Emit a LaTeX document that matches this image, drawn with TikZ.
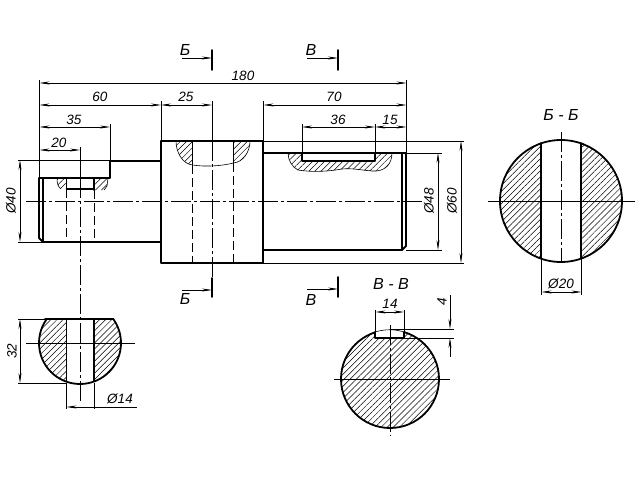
\documentclass[tikz,border=0pt]{standalone}
\usepackage{fontspec}
\setmainfont{Liberation Sans}
\usetikzlibrary{arrows.meta,patterns.meta}

\tikzset{
  contour/.style={line width=1.8pt, line cap=round, line join=round},
  thinline/.style={line width=0.6pt},
  dimline/.style={thinline, {Stealth[length=10pt,width=3pt]}-{Stealth[length=10pt,width=3pt]}},
  dimstart/.style={thinline, {Stealth[length=10pt,width=3pt]}-},
  dimend/.style={thinline, -{Stealth[length=10pt,width=3pt]}},
  axisline/.style={thinline, dash pattern=on 20pt off 3pt on 3pt off 3pt},
  hiddenline/.style={line width=0.8pt, dash pattern=on 9pt off 4pt},
  hatched/.style={pattern={Lines[angle=45,distance=4.3pt,line width=0.5pt]}},
  lbl/.style={font=\fontsize{13.5}{13.5}\selectfont\itshape, inner sep=0pt},
  marklbl/.style={font=\fontsize{16}{16}\selectfont\itshape, inner sep=0pt},
}

\begin{document}
\begin{tikzpicture}[x=1pt, y=-1pt]
  \useasboundingbox (0,0) rectangle (640,480);
  \fill[white] (0,0) rectangle (640,480);

  % hatching main view
  \path[hatched] (57,178) -- (66.5,178) -- (66.5,189) -- (61,189) .. controls (58,187) and (57,183) .. cycle;
  \path[hatched] (94,178) -- (108,178) -- (107,186) -- (104,190) -- (94,190) -- cycle;
  \path[hatched] (176,141) -- (192.5,141) -- (192.5,165) .. controls (183,164) and (176,153) .. cycle;
  \path[hatched] (233.5,141) -- (250,141) .. controls (250,152) and (243,162) .. (233.5,163) -- cycle;
  \path[hatched] (288,153) -- (302,153) -- (302,161) -- (375,161) -- (375,153) -- (392,153)
    .. controls (392,164) and (385,172) .. (372,171) .. controls (360,170) and (352,168) .. (342,169)
    .. controls (325,172) and (310,172) .. (298,170) .. controls (292,167) and (288,160) .. cycle;
  \draw[thinline] (176,141) .. controls (176,153) and (183,164) .. (192.5,165);
  \draw[thinline] (250,141) .. controls (250,152) and (243,162) .. (233.5,163);
  \draw[thinline] (192.5,165) .. controls (205,167) and (222,166) .. (233.5,163);
  \draw[thinline] (57,178) .. controls (57,183) and (58,187) .. (61,189);
  \draw[thinline] (108,178) -- (107,186) -- (104,190);
  \draw[thinline] (288,153) .. controls (288,160) and (292,167) .. (298,170)
    .. controls (310,172) and (325,172) .. (342,169)
    .. controls (352,168) and (360,170) .. (372,171)
    .. controls (385,172) and (392,164) .. (392,153);

  % contour main view
  \draw[contour] (110,161) -- (161,161);
  \draw[contour] (39,238) -- (39,178) -- (110,178) -- (110,161);
  \draw[contour] (39,238) -- (43,242) -- (161,242);
  \draw[contour] (43,178) -- (43,242);
  \draw[contour] (161,141) rectangle (263,263);
  \draw[contour] (263,153) -- (406,153) -- (406,246) -- (402,250) -- (263,250);
  \draw[contour] (402,153) -- (402,250);
  \draw[contour] (66.5,178) -- (66.5,189) -- (94,189) -- (94,178);
  \draw[contour] (94,178) -- (94,190);
  \draw[contour] (192.5,141) -- (192.5,165);
  \draw[contour] (233.5,141) -- (233.5,163);
  \draw[contour] (302,153) -- (302,161) -- (375,161) -- (375,153);

  % hidden lines and axes
  \draw[hiddenline] (66.5,189) -- (66.5,242);
  \draw[hiddenline] (94,190) -- (94,242);
  \draw[hiddenline] (192.5,165) -- (192.5,263);
  \draw[hiddenline] (233.5,163) -- (233.5,263);
  \draw[axisline] (26,201.5) -- (422,201.5);
  \draw[axisline] (80,178) -- (80,402);
  \draw[axisline] (212,141) -- (212,278);

  % extension lines
  \draw[thinline] (39.5,80) -- (39.5,178);
  \draw[thinline] (161,101) -- (161,141);
  \draw[thinline] (212,101) -- (212,141);
  \draw[thinline] (263.5,101) -- (263.5,141);
  \draw[thinline] (406.5,80) -- (406.5,153);
  \draw[thinline] (110,124) -- (110,161);
  \draw[thinline] (80,147) -- (80,178);
  \draw[thinline] (302,124) -- (302,153);
  \draw[thinline] (375,124) -- (375,153);
  \draw[thinline] (18,160) -- (110,160);
  \draw[thinline] (18,242) -- (43,242);
  \draw[thinline] (263,141) -- (464,141);
  \draw[thinline] (263,263) -- (464,263);
  \draw[thinline] (406,153) -- (442,153);
  \draw[thinline] (406,250) -- (442,250);

  % dimensions main view
  \draw[dimline] (39.5,83) -- (406.5,83);
  \draw[dimline] (39.5,105) -- (161,105);
  \draw[dimline] (161,105) -- (212,105);
  \draw[dimline] (263.5,105) -- (406.5,105);
  \draw[dimline] (39.5,127) -- (110,127);
  \draw[dimline] (39.5,150) -- (80,150);
  \draw[dimline] (302,127) -- (375,127);
  \draw[dimline] (375,127) -- (406.5,127);
  \draw[dimline] (20,160) -- (20,242);
  \draw[dimline] (438,153) -- (438,250);
  \draw[dimline] (461,141) -- (461,263);
  \node[lbl] (l180) at (243,76) {180};
  \node[lbl] (l60) at (100,97) {60};
  \node[lbl] (l25) at (186,97) {25};
  \node[lbl] (l70) at (334,97) {70};
  \node[lbl] (l35) at (74,120) {35};
  \node[lbl] (l20) at (59,143) {20};
  \node[lbl] (l36) at (338,120) {36};
  \node[lbl] (l15) at (390,120) {15};
  \node[lbl, rotate=90] (l40) at (11,201) {Ø40};
  \node[lbl, rotate=90] (l48) at (429,201) {Ø48};
  \node[lbl, rotate=90] (l60v) at (452,201) {Ø60};

  % section marks
  \draw[contour] (212,50) -- (212,70);
  \draw[dimend] (182,58) -- (212,58);
  \node[marklbl] (bt) at (185,49.5) {Б};
  \draw[contour] (338,50) -- (338,70);
  \draw[dimend] (307,58) -- (338,58);
  \node[marklbl] (vt) at (311,49.5) {В};
  \draw[contour] (212,278) -- (212,297);
  \draw[dimend] (182,290) -- (212,290);
  \node[marklbl] (bb) at (185,299) {Б};
  \draw[contour] (338,277) -- (338,297);
  \draw[dimend] (307,289) -- (338,289);
  \node[marklbl] (vb) at (311,300) {В};

  % section B-B
  \begin{scope}
    \clip (500,130) rectangle (541,270) (581,130) rectangle (625,270);
    \path[hatched] (561,201) circle (61);
  \end{scope}
  \draw[contour] (561,201) circle (61);
  \draw[contour] (541,143) -- (541,258);
  \draw[contour] (581,143) -- (581,258);
  \draw[thinline] (488,201) -- (635,201);
  \draw[axisline] (561,132) -- (561,262);
  \draw[thinline] (541.5,258) -- (541.5,295);
  \draw[thinline] (581.5,258) -- (581.5,295);
  \draw[dimline] (541.5,292) -- (581.5,292);
  \node[lbl] (l20d) at (561,284) {Ø20};
  \node[marklbl] (tbb) at (561,115) {Б - Б};

  % lower left section
  \begin{scope}
    \clip (30,319) rectangle (66.5,390) (94,319) rectangle (130,390);
    \path[hatched] (80,343) circle (41);
  \end{scope}
  \begin{scope}
    \clip (30,318) rectangle (130,390);
    \draw[contour] (80,343) circle (41);
  \end{scope}
  \draw[contour] (45,319) -- (113,319);
  \draw[contour] (66.5,319) -- (66.5,381);
  \draw[contour] (94,319) -- (94,381);
  \draw[thinline] (26,343) -- (135,343);
  \draw[thinline] (18,319) -- (45,319);
  \draw[thinline] (18,383) -- (66.5,383);
  \draw[thinline] (66.5,383) -- (66.5,409);
  \draw[thinline] (94,383) -- (94,409);
  \draw[dimline] (20,319) -- (20,383);
  \draw[dimstart] (66.5,407) -- (94,407);
  \draw[thinline] (94,407) -- (137,407);
  \node[lbl, rotate=90] (l32) at (12,351) {32};
  \node[lbl] (l14d) at (120,399) {Ø14};

  % section V-V
  \path[hatched] (390,379) circle (49);
  \draw[contour] (390,379) circle (49);
  \fill[white] (375,325) rectangle (404,338);
  \draw[contour] (375,332) -- (375,338) -- (404,338) -- (404,332);
  \draw[thinline] (375,332) .. controls (385,329) and (395,329) .. (404,332);
  \draw[thinline] (334,379) -- (450,379);
  \draw[axisline] (390,325) -- (390,436);
  \draw[thinline] (375.5,310) -- (375.5,332);
  \draw[thinline] (404,310) -- (404,332);
  \draw[dimline] (375.5,312) -- (404,312);
  \draw[thinline] (390,329) -- (454,329);
  \draw[thinline] (404,338) -- (454,338);
  \draw[dimend] (450,295) -- (450,329);
  \draw[dimstart] (450,338) -- (450,357);
  \node[lbl] (l14) at (390,304) {14};
  \node[lbl, rotate=90] (l4) at (442,302) {4};
  \node[marklbl] (tvv) at (391,284) {В - В};
\end{tikzpicture}
\end{document}
